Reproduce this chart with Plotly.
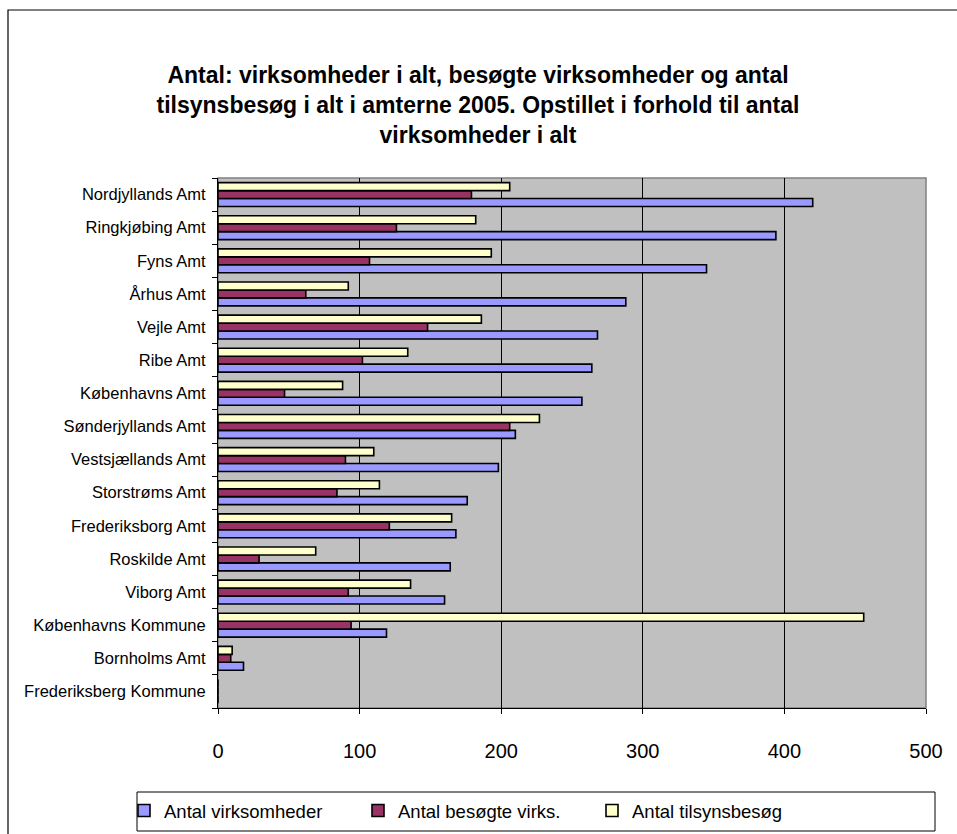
import plotly.graph_objects as go

# Data (top-to-bottom order as shown)
regions = [
    "Nordjyllands Amt", "Ringkjøbing Amt", "Fyns Amt", "Århus Amt", "Vejle Amt",
    "Ribe Amt", "Københavns Amt", "Sønderjyllands Amt", "Vestsjællands Amt",
    "Storstrøms Amt", "Frederiksborg Amt", "Roskilde Amt", "Viborg Amt",
    "Københavns Kommune", "Bornholms Amt", "Frederiksberg Kommune",
]
virksomheder = [420, 394, 345, 288, 268, 264, 257, 210, 198, 176, 168, 164, 160, 119, 18, 0]
besoegte = [179, 126, 107, 62, 148, 102, 47, 206, 90, 84, 121, 29, 92, 94, 9, 0]
tilsynsbesoeg = [206, 182, 193, 92, 186, 134, 88, 227, 110, 114, 165, 69, 136, 456, 10, 0]

series = [
    ("Antal virksomheder", virksomheder, "#9999FF"),
    ("Antal besøgte virks.", besoegte, "#993366"),
    ("Antal tilsynsbesøg", tilsynsbesoeg, "#FFFFCC"),
]

W, H = 957, 834
L, R, T, B = 218, 31, 178, 126
pw, ph = W - L - R, H - T - B


def px_x(px):
    # pixel x -> paper x
    return (px - L) / pw


def px_y(py):
    # pixel y -> paper y
    return (H - B - py) / ph


fig = go.Figure()
for name, vals, color in series:
    fig.add_trace(
        go.Bar(
            y=regions,
            x=vals,
            orientation="h",
            name=name,
            marker=dict(color=color, line=dict(color="#000000", width=1.6)),
        )
    )

title = (
    "<b>Antal: virksomheder i alt, besøgte virksomheder og antal<br>"
    "tilsynsbesøg i alt i amterne 2005. Opstillet i forhold til antal<br>"
    "virksomheder i alt</b>"
)

fig.update_layout(
    width=W,
    height=H,
    margin=dict(l=L, r=R, t=T, b=B, autoexpand=False),
    paper_bgcolor="#FFFFFF",
    plot_bgcolor="#C0C0C0",
    font=dict(family="Liberation Sans, Arial, sans-serif", color="#000000"),
    barmode="group",
    bargap=0.28,
    bargroupgap=0,
    title=dict(
        text=title,
        x=px_x(478),
        xref="paper",
        xanchor="center",
        y=1 - 83 / H,
        yanchor="middle",
        font=dict(size=23, color="#000000"),
    ),
    showlegend=True,
    legend=dict(
        orientation="h",
        x=px_x(124),
        xanchor="left",
        y=px_y(811),
        yanchor="middle",
        entrywidth=189,
        font=dict(size=18.5),
        bgcolor="rgba(0,0,0,0)",
        borderwidth=0,
        traceorder="normal",
    ),
    shapes=[
        # outer chart border
        dict(type="rect", xref="paper", yref="paper",
             x0=px_x(8), x1=px_x(962), y0=px_y(840), y1=px_y(10),
             line=dict(color="#000000", width=1.2), layer="below"),
        # legend box
        dict(type="rect", xref="paper", yref="paper",
             x0=px_x(137), x1=px_x(935), y0=px_y(831), y1=px_y(792),
             line=dict(color="#000000", width=1)),
        # plot border (top/right grey)
        dict(type="rect", xref="paper", yref="paper",
             x0=0, x1=1, y0=0, y1=1,
             line=dict(color="#808080", width=1.5), layer="below"),
    ],
)

fig.update_xaxes(
    range=[0, 500],
    tickvals=[0, 100, 200, 300, 400, 500],
    showgrid=True,
    gridcolor="#000000",
    gridwidth=1,
    zeroline=False,
    showline=True,
    linecolor="#000000",
    linewidth=1,
    ticks="outside",
    ticklen=5,
    tickcolor="#000000",
    tickfont=dict(size=20),
    ticklabelstandoff=20,
    fixedrange=True,
)

fig.update_yaxes(
    type="category",
    categoryorder="array",
    categoryarray=list(reversed(regions)),
    showgrid=False,
    showline=True,
    linecolor="#000000",
    linewidth=1,
    ticks="outside",
    ticklen=5,
    tickcolor="#000000",
    tickson="boundaries",
    tickfont=dict(size=16.5),
    ticklabelstandoff=8,
)

# drop the default body margin so the figure sits at the window origin
fig.write_html(
    "out.html",
    config={"displayModeBar": False},
    post_script="document.body.style.margin='0';document.body.style.overflow='hidden';",
)
